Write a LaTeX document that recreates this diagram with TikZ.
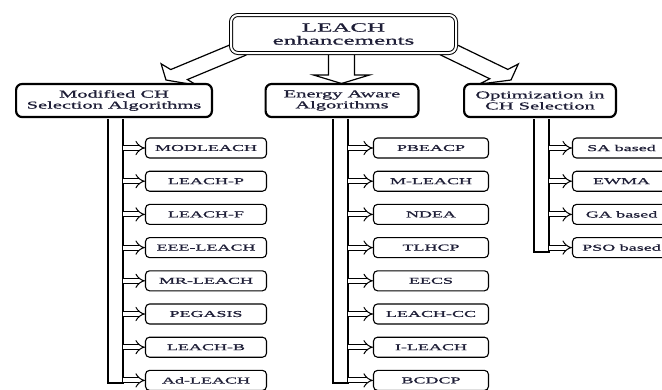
\documentclass[tikz,border=0pt]{standalone}
\usepackage{fontspec}
\setmainfont{Liberation Serif}
\newfontfamily\stretchA[FakeStretch=2,FakeBold=0.9]{Liberation Serif}
\newfontfamily\stretchB[FakeStretch=1.95,FakeBold=0.9]{Liberation Serif}
\usetikzlibrary{arrows.meta,calc}
\definecolor{txt}{RGB}{30,30,55}
\tikzset{
  topbox/.style={draw, double, double distance=2pt, line width=1pt, rounded corners=7pt,
    fill=white, minimum width=225pt, minimum height=38pt, inner sep=0pt, align=center,
    text=txt, font=\stretchA\fontsize{12.5}{13}\selectfont},
  hdr/.style={draw, line width=2.2pt, rounded corners=6pt, fill=white,
    minimum height=33pt, inner sep=0pt, align=center, text=txt,
    font=\stretchB\fontsize{10.5}{11}\selectfont},
  item/.style={draw, line width=1.1pt, rounded corners=4pt, fill=white,
    minimum height=20pt, inner sep=0pt, text=txt,
    font=\stretchA\fontsize{9}{10}\selectfont},
  rail/.style={line width=1.1pt},
  branch/.style={double, double distance=4pt, line width=1pt, -{Implies}},
  bigarr/.style={line width=1.2pt, line join=miter},
  blockarrow/.style={to path={
    let \p1=(\tikztostart), \p2=(\tikztotarget),
        \n1={veclen((\x2-\x1)/2,\y2-\y1)},
        \n2={(\x2-\x1)/2/\n1},
        \n3={(\y2-\y1)/\n1}
    in
    ($(\p1)+({2*(0-6.5*(\n3))*1pt},{(6.5*(\n2))*1pt})$)
    -- ($(\p1)+({2*((\n1-8.5)*(\n2)-6.5*(\n3))*1pt},{((\n1-8.5)*(\n3)+6.5*(\n2))*1pt})$)
    -- ($(\p1)+({2*((\n1-8.5)*(\n2)-14*(\n3))*1pt},{((\n1-8.5)*(\n3)+14*(\n2))*1pt})$)
    -- (\p2)
    -- ($(\p1)+({2*((\n1-8.5)*(\n2)+14*(\n3))*1pt},{((\n1-8.5)*(\n3)-14*(\n2))*1pt})$)
    -- ($(\p1)+({2*((\n1-8.5)*(\n2)+6.5*(\n3))*1pt},{((\n1-8.5)*(\n3)-6.5*(\n2))*1pt})$)
    -- ($(\p1)+({2*(6.5*(\n3))*1pt},{(0-6.5*(\n2))*1pt})$)
  }}
}
\begin{document}
\begin{tikzpicture}[x=1pt, y=-1pt]
  \useasboundingbox (0,0) rectangle (662,389);
  \clip (0,0) rectangle (662,389);

  % big hollow arrows from the top box
  \coordinate (ls) at (238,50);
  \coordinate (lt) at (166,80);
  \coordinate (rs) at (449,50);
  \coordinate (rt) at (511,80);
  \coordinate (ds) at (341.5,52);
  \coordinate (dt) at (341.5,83.5);
  \draw[bigarr] (ls) to[blockarrow] (lt);
  \draw[bigarr] (rs) to[blockarrow] (rt);
  \draw[bigarr] (ds) to[blockarrow] (dt);

  \node[topbox] (top) at (343.5,34) {LEACH\\enhancements};

  % rails
  \coordinate (c1l) at (108,119);
  \coordinate (c1r) at (123,119);
  \coordinate (c2l) at (333,119);
  \coordinate (c2r) at (348,119);
  \coordinate (c3l) at (534,119);
  \coordinate (c3r) at (549,119);
  \draw[rail] (c1l) -- ++(0,264) -| (c1r);
  \draw[rail] (c2l) -- ++(0,264) -| (c2r);
  \draw[rail] (c3l) -- ++(0,133) -| (c3r);

  % category boxes
  \node[hdr, minimum width=195.8pt] (mod) at (114,100.5) {Modified CH\\Selection Algorithms};
  \node[hdr, minimum width=152.8pt] (ene) at (342,100.5) {Energy Aware\\Algorithms};
  \node[hdr, minimum width=151.8pt] (opt) at (540,100.5) {Optimization in\\CH Selection};

  % items
  \foreach \t [count=\i] in {MODLEACH,LEACH-P,LEACH-F,EEE-LEACH,MR-LEACH,PEGASIS,LEACH-B,Ad-LEACH}{
    \node[item, minimum width=121pt] (m\i) at (206,{148+33.2*(\i-1)}) {\t};
    \draw[branch] (c1r |- m\i) -- (m\i.west);
  }
  \foreach \t [count=\i] in {PBEACP,M-LEACH,NDEA,TLHCP,EECS,LEACH-CC,I-LEACH,BCDCP}{
    \node[item, minimum width=115pt] (e\i) at (431,{148+33.2*(\i-1)}) {\t};
    \draw[branch] (c2r |- e\i) -- (e\i.west);
  }
  \foreach \t [count=\i] in {SA based,EWMA,GA based,PSO based}{
    \node[item, minimum width=98pt] (o\i) at (621.5,{148+33.2*(\i-1)}) {\t};
    \draw[branch] (c3r |- o\i) -- (o\i.west);
  }
\end{tikzpicture}
\end{document}
